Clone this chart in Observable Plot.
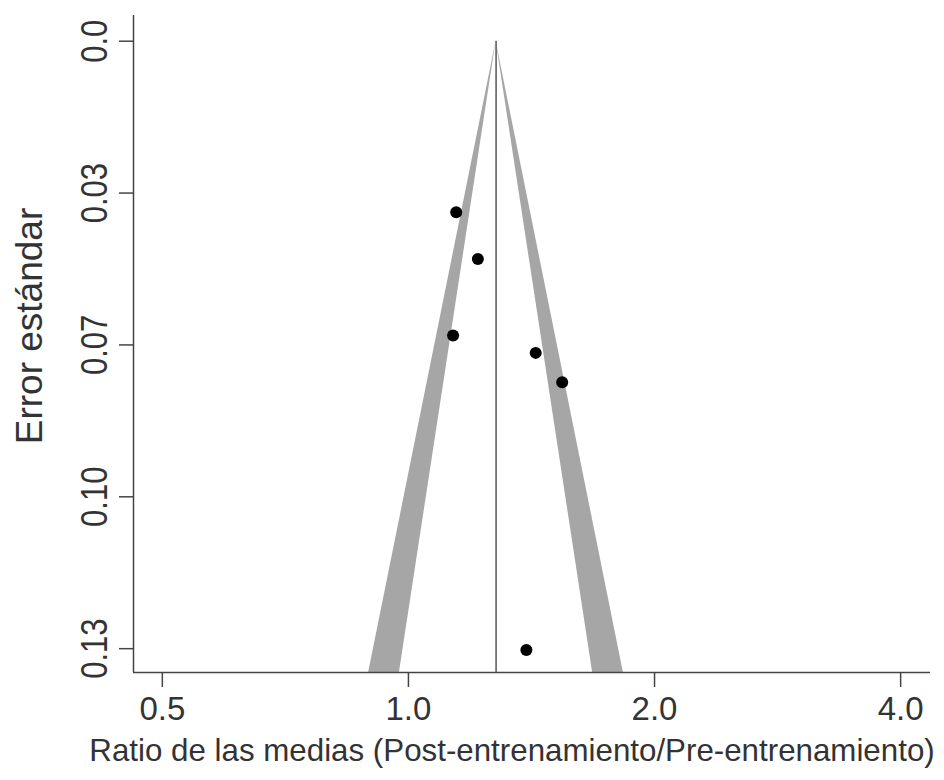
<!DOCTYPE html>
<html>
<head>
<meta charset="utf-8">
<script src="https://cdn.jsdelivr.net/npm/d3@7"></script>
<script src="https://cdn.jsdelivr.net/npm/@observablehq/plot@0.6"></script>
<style>
  html, body { margin: 0; padding: 0; background: #fff; }
  #chart svg { font-family: "Liberation Sans", Arial, sans-serif; }
</style>
</head>
<body>
<div id="chart"></div>
<script>
// Study estimates (ratio of means) and standard errors
const ratios = [1.144, 1.216, 1.134, 1.431, 1.542, 1.394];
const stdErrors = [0.0366, 0.0466, 0.0630, 0.0667, 0.0730, 0.1303];

// Pooled estimate and funnel contour bounds at the bottom of the plot
const pooled = 1.28;
const seBottom = 0.1351;
const lower99 = 0.894, lower95 = 0.975, upper95 = 1.680, upper99 = 1.832;

// Axis ticks
const xTicks = [0.5, 1, 2, 4];
const xTickLabels = ["0.5", "1.0", "2.0", "4.0"];
const yTicks = [0, 0.0325, 0.065, 0.0975, 0.13];
const yTickLabels = ["0.0", "0.03", "0.07", "0.10", "0.13"];

const xLabel = "Ratio de las medias (Post-entrenamiento/Pre-entrenamiento)";
const yLabel = "Error estándar";

const points = ratios.map((r, i) => ({ratio: r, se: stdErrors[i]}));
const leftBand = [
  {se: 0, x1: pooled, x2: pooled},
  {se: seBottom, x1: lower99, x2: lower95}
];
const rightBand = [
  {se: 0, x1: pooled, x2: pooled},
  {se: seBottom, x1: upper95, x2: upper99}
];
const yTickRows = yTicks.map((t, i) => ({t, label: yTickLabels[i]}));

const xDomain = [0.461, 4.351];
const yDomain = [-0.0055, seBottom];

const chart = Plot.plot({
  width: 944,
  height: 780,
  marginLeft: 133,
  marginRight: 14,
  marginTop: 15,
  marginBottom: 108,
  x: {type: "log", domain: xDomain},
  y: {domain: yDomain, reverse: true},
  marks: [
    Plot.areaX(leftBand, {y: "se", x1: "x1", x2: "x2", fill: "#a6a6a6"}),
    Plot.areaX(rightBand, {y: "se", x1: "x1", x2: "x2", fill: "#a6a6a6"}),
    Plot.ruleX([pooled], {y1: 0, y2: seBottom, stroke: "#555", strokeWidth: 1.5}),
    Plot.dot(points, {x: "ratio", y: "se", r: 6, fill: "black", stroke: "none"}),
    // L-shaped box
    Plot.ruleY([seBottom], {stroke: "#444", strokeWidth: 1.5}),
    Plot.ruleX([xDomain[0]], {stroke: "#444", strokeWidth: 1.5}),
    // axes
    Plot.axisX({
      ticks: xTicks,
      tickFormat: (d) => xTickLabels[xTicks.indexOf(d)],
      tickSize: 15,
      tickPadding: 9,
      fontSize: 33,
      stroke: "#444",
      strokeWidth: 1.5,
      fill: "#333",
      label: null
    }),
    Plot.axisY({
      ticks: yTicks,
      tickFormat: () => "",
      tickSize: 14,
      stroke: "#444",
      strokeWidth: 1.5,
      label: null
    }),
    Plot.text(yTickRows, {
      y: "t",
      text: "label",
      frameAnchor: "left",
      dx: -38,
      rotate: -90,
      fontSize: 31,
      fill: "#333",
      textAnchor: "middle",
      lineAnchor: "middle",
      className: "ytl"
    }),
    Plot.text([xLabel], {
      frameAnchor: "bottom",
      dx: -20,
      dy: 78,
      fontSize: 31.3,
      fill: "#333",
      textAnchor: "middle",
      lineAnchor: "middle"
    }),
    Plot.text([yLabel], {
      frameAnchor: "left",
      dx: -103,
      dy: -18,
      rotate: -90,
      fontSize: 37,
      fill: "#333",
      textAnchor: "middle",
      lineAnchor: "middle"
    })
  ]
});
// widen the rotated y tick label glyphs slightly, as in the reference
d3.select(chart).selectAll("g.ytl text").each(function () {
  const t = this.getAttribute("transform") || "";
  this.setAttribute("transform", t + " scale(1,1.2)");
});
document.getElementById("chart").appendChild(chart);
</script>
</body>
</html>
